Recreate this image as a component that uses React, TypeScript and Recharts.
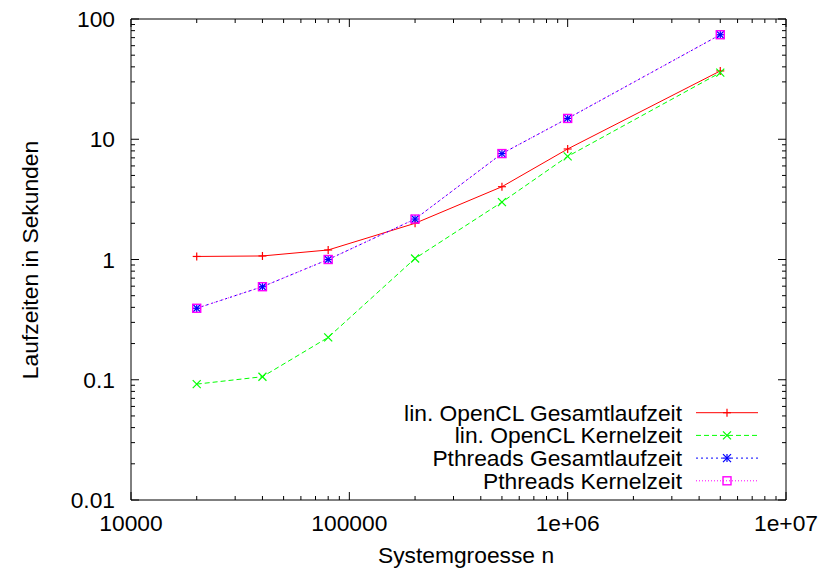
import React from 'react';
import { LineChart, Line, XAxis, YAxis } from 'recharts';

// ---- data ----
const systemSizes = [20000, 40000, 80000, 200000, 500000, 1000000, 5000000];
const openclTotal = [1.06, 1.07, 1.2, 2.0, 4.03, 8.3, 37];
const openclKernel = [0.092, 0.106, 0.225, 1.02, 3.0, 7.2, 35.8];
const pthreadsTotal = [0.393, 0.594, 1.0, 2.17, 7.6, 14.9, 74];
const pthreadsKernel = [0.393, 0.594, 1.0, 2.17, 7.6, 14.9, 74];

const seriesNames = [
  'lin. OpenCL Gesamtlaufzeit',
  'lin. OpenCL Kernelzeit',
  'Pthreads Gesamtlaufzeit',
  'Pthreads Kernelzeit',
];

const xMajorTicks = [10000, 100000, 1000000, 10000000];
const xTickLabels = ['10000', '100000', '1e+06', '1e+07'];
const yMajorTicks = [0.01, 0.1, 1, 10, 100];
const yTickLabels = ['0.01', '0.1', '1', '10', '100'];

const xAxisTitle = 'Systemgroesse n';
const yAxisTitle = 'Laufzeiten in Sekunden';

// ---- table built from arrays ----
const table = systemSizes.map((n, i) => ({
  n,
  s0: openclTotal[i],
  s1: openclKernel[i],
  s2: pthreadsTotal[i],
  s3: pthreadsKernel[i],
}));

const withMinors = (majors: number[]) => {
  const out: number[] = [];
  majors.forEach((d, i) => {
    out.push(d);
    if (i < majors.length - 1) {
      for (let m = 2; m <= 9; m++) out.push(m * d);
    }
  });
  return out;
};
const xTicks = withMinors(xMajorTicks);
const yTicks = withMinors(yMajorTicks);

const majorIndex = (v: number, majors: number[]) =>
  majors.findIndex((m) => Math.abs(Math.log10(v) - Math.log10(m)) < 1e-6);

const FONT = '"Liberation Sans", Arial, Helvetica, sans-serif';
const FS = 22.8;
const MAJ = 8;
const MIN = 4;

// plot rectangle (page px)
const PL = 131;
const PR = 786;
const PT = 19;
const PB = 500;

const makeTick = (orient: 'bottom' | 'top' | 'left' | 'right', showLabels: boolean) => (props: any) => {
  const { payload, index } = props;
  const v = payload.value;
  const isX = orient === 'bottom' || orient === 'top';
  const majors = isX ? xMajorTicks : yMajorTicks;
  const labels = isX ? xTickLabels : yTickLabels;
  const mi = majorIndex(v, majors);
  const len = mi >= 0 ? MAJ : MIN;
  const x = props.x;
  const y = props.y;
  let line: any;
  let text: any = null;
  if (orient === 'bottom') {
    line = <line x1={x} x2={x} y1={PB} y2={PB - len} stroke="#000" strokeWidth={1} />;
    if (showLabels && mi >= 0)
      text = (
        <text x={x} y={PB + 31} textAnchor="middle" fontFamily={FONT} fontSize={FS} fill="#000">
          {labels[mi]}
        </text>
      );
  } else if (orient === 'top') {
    line = <line x1={x} x2={x} y1={PT} y2={PT + len} stroke="#000" strokeWidth={1} />;
  } else if (orient === 'left') {
    line = <line x1={PL} x2={PL + len} y1={y} y2={y} stroke="#000" strokeWidth={1} />;
    if (showLabels && mi >= 0)
      text = (
        <text x={PL - 16} y={y + 8} textAnchor="end" fontFamily={FONT} fontSize={FS} fill="#000">
          {labels[mi]}
        </text>
      );
  } else {
    line = <line x1={PR} x2={PR - len} y1={y} y2={y} stroke="#000" strokeWidth={1} />;
  }
  return (
    <g key={`${orient}-${index}`}>
      {line}
      {text}
    </g>
  );
};

type Kind = 'plus' | 'cross' | 'star' | 'square';
const seriesColors = ['#ff0000', '#00ff00', '#0000ff', '#ff00ff'];
const seriesDashes = ['', '5 3', '2 3', '1 2'];
const seriesMarkers: Kind[] = ['plus', 'cross', 'star', 'square'];

const Marker = ({ cx, cy, kind, color }: { cx: number; cy: number; kind: Kind; color: string }) => {
  const r = 4;
  const sw = 1.2;
  if (kind === 'plus')
    return (
      <g>
        <line x1={cx - r} x2={cx + r} y1={cy} y2={cy} stroke={color} strokeWidth={sw} />
        <line x1={cx} x2={cx} y1={cy - r} y2={cy + r} stroke={color} strokeWidth={sw} />
      </g>
    );
  if (kind === 'cross')
    return (
      <g>
        <line x1={cx - r} x2={cx + r} y1={cy - r} y2={cy + r} stroke={color} strokeWidth={sw} />
        <line x1={cx - r} x2={cx + r} y1={cy + r} y2={cy - r} stroke={color} strokeWidth={sw} />
      </g>
    );
  if (kind === 'star')
    return (
      <g>
        <line x1={cx - r} x2={cx + r} y1={cy} y2={cy} stroke={color} strokeWidth={sw} />
        <line x1={cx} x2={cx} y1={cy - r} y2={cy + r} stroke={color} strokeWidth={sw} />
        <line x1={cx - r} x2={cx + r} y1={cy - r} y2={cy + r} stroke={color} strokeWidth={sw} />
        <line x1={cx - r} x2={cx + r} y1={cy + r} y2={cy - r} stroke={color} strokeWidth={sw} />
      </g>
    );
  return (
    <rect x={cx - r} y={cy - r} width={2 * r} height={2 * r} fill="none" stroke={color} strokeWidth={1.4} />
  );
};

const makeDot = (si: number) => (props: any) => {
  const { cx, cy, index } = props;
  if (cx == null || cy == null) return <g key={`d${si}-${index}`} />;
  return (
    <g key={`d${si}-${index}`}>
      <Marker cx={cx} cy={cy} kind={seriesMarkers[si]} color={seriesColors[si]} />
    </g>
  );
};

const YTitle = () => (
  <text
    x={30}
    y={260}
    transform="rotate(-90 30 260)"
    textAnchor="middle"
    dominantBaseline="central"
    fontFamily={FONT}
    fontSize={FS}
    fill="#000"
  >
    {yAxisTitle}
  </text>
);

const XTitle = () => (
  <text x={466} y={563} textAnchor="middle" fontFamily={FONT} fontSize={FS} fill="#000">
    {xAxisTitle}
  </text>
);

const LegendBox = () => (
  <svg
    width={420}
    height={100}
    style={{ position: 'absolute', left: 380, top: 400, overflow: 'visible' }}
  >
    {seriesNames.map((name, i) => {
      const cy = 12.7 + i * 22.7;
      return (
        <g key={name}>
          <text x={302} y={cy + 8} textAnchor="end" fontFamily={FONT} fontSize={FS} fill="#000">
            {name}
          </text>
          <line
            x1={316}
            x2={378}
            y1={cy}
            y2={cy}
            stroke={seriesColors[i]}
            strokeWidth={1}
            strokeDasharray={seriesDashes[i] || undefined}
          />
          <Marker cx={347} cy={cy} kind={seriesMarkers[i]} color={seriesColors[i]} />
        </g>
      );
    })}
  </svg>
);

export default function App() {
  return (
    <div style={{ position: 'absolute', left: 0, top: 0, width: 822, height: 569, background: '#fff' }}>
      <LineChart
        width={822}
        height={569}
        data={table}
        margin={{ top: PT - 10, right: 822 - PR - 10, bottom: 569 - PB - 40, left: PL - 60 }}
      >
        <XAxis
          dataKey="n"
          type="number"
          scale="log"
          domain={[10000, 10000000]}
          allowDataOverflow
          ticks={xTicks}
          interval={0}
          height={40}
          tickLine={false}
          tick={makeTick('bottom', true)}
          axisLine={{ stroke: '#000', strokeWidth: 1 }}
          label={<XTitle />}
        />
        <XAxis
          xAxisId="top"
          orientation="top"
          dataKey="n"
          type="number"
          scale="log"
          domain={[10000, 10000000]}
          allowDataOverflow
          ticks={xTicks}
          interval={0}
          height={10}
          tickLine={false}
          tick={makeTick('top', false)}
          axisLine={{ stroke: '#000', strokeWidth: 1 }}
        />
        <YAxis
          type="number"
          scale="log"
          domain={[0.01, 100]}
          allowDataOverflow
          ticks={yTicks}
          interval={0}
          width={60}
          tickLine={false}
          tick={makeTick('left', true)}
          axisLine={{ stroke: '#000', strokeWidth: 1 }}
          label={<YTitle />}
        />
        <YAxis
          yAxisId="right"
          orientation="right"
          type="number"
          scale="log"
          domain={[0.01, 100]}
          allowDataOverflow
          ticks={yTicks}
          interval={0}
          width={10}
          tickLine={false}
          tick={makeTick('right', false)}
          axisLine={{ stroke: '#000', strokeWidth: 1 }}
        />
        {[0, 1, 2, 3].map((si) => (
          <Line
            key={si}
            type="linear"
            dataKey={`s${si}`}
            name={seriesNames[si]}
            stroke={seriesColors[si]}
            strokeWidth={1}
            strokeDasharray={seriesDashes[si] || undefined}
            dot={makeDot(si)}
            activeDot={false}
            isAnimationActive={false}
          />
        ))}
      </LineChart>
      <LegendBox />
    </div>
  );
}
